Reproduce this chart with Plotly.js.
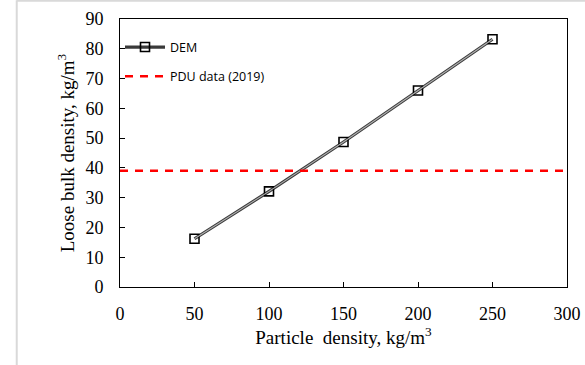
<!DOCTYPE html>
<html>
<head>
<meta charset="utf-8">
<script src="https://cdn.plot.ly/plotly-3.0.1.min.js"></script>
<style>html,body{margin:0;padding:0;background:#fff;}#chart{width:585px;height:365px;}</style>
</head>
<body>
<div id="chart"></div>
<script>
const particleDensity = [50, 100, 150, 200, 250];
const demBulkDensity = [16.2, 32.1, 48.7, 66.0, 83.2];
const pduX = [0, 300];
const pduValue = 39;
const pduY = pduX.map(() => pduValue);
const xTicks = [0, 50, 100, 150, 200, 250, 300];
const yTicks = [0, 10, 20, 30, 40, 50, 60, 70, 80, 90];

const traces = [
  {x: particleDensity, y: demBulkDensity, name: 'DEM', mode: 'lines+markers', legendgroup: 'a',
   line: {color: '#3a3a3a', width: 3.2},
   marker: {symbol: 'square-open', size: 9, color: '#000', line: {width: 1.6, color: '#000'}}},
  {x: particleDensity, y: demBulkDensity, showlegend: false, mode: 'lines', hoverinfo: 'skip', legendgroup: 'a',
   line: {color: '#b0b0b0', width: 1.1}},
  {x: pduX, y: pduY, name: 'PDU data (2019)', mode: 'lines', legendgroup: 'b',
   line: {color: '#ff0000', width: 2.5, dash: '8px,7px'}}
];

const tickFont = {family: 'Liberation Serif, Times New Roman, serif', size: 18, color: '#000'};
const titleFont = {family: 'Liberation Serif, Times New Roman, serif', size: 19, color: '#000'};
const layout = {
  width: 585, height: 365,
  margin: {l: 120, r: 18, t: 19, b: 78},
  paper_bgcolor: '#fff', plot_bgcolor: '#fff',
  showlegend: true,
  legend: {x: 0.0, y: 0.95, xanchor: 'left', yanchor: 'top', bgcolor: 'rgba(0,0,0,0)',
           font: {family: 'Open Sans, Liberation Sans, sans-serif', size: 12.5, color: '#000'},
           traceorder: 'grouped', tracegroupgap: 10, itemwidth: 40},
  xaxis: {range: [0, 300], tickvals: xTicks, ticks: 'inside', ticklen: 5, tickcolor: '#000',
          showline: true, linecolor: '#000', linewidth: 1, mirror: true, showgrid: false, zeroline: false,
          tickfont: tickFont, ticklabelstandoff: 10,
          title: {text: 'Particle  density, kg/m<sup>3</sup>', font: titleFont, standoff: 6}},
  yaxis: {range: [0, 90], tickvals: yTicks, ticks: 'inside', ticklen: 5, tickcolor: '#000',
          showline: true, linecolor: '#000', linewidth: 1, mirror: true, showgrid: false, zeroline: false,
          tickfont: tickFont, ticklabelstandoff: 12,
          title: {text: 'Loose bulk density, kg/m<sup>3</sup>', font: titleFont, standoff: 5}},
  shapes: [
    {type: 'line', xref: 'paper', yref: 'paper', x0: -0.231, x1: -0.231, y0: -0.3, y1: 1.07,
     line: {color: '#d9d9d9', width: 2}},
    {type: 'line', xref: 'paper', yref: 'paper', x0: -0.231, x1: 1.05, y0: 1.068, y1: 1.068,
     line: {color: '#d9d9d9', width: 2}}
  ]
};
Plotly.newPlot('chart', traces, layout, {displayModeBar: false, staticPlot: true});
</script>
</body>
</html>
